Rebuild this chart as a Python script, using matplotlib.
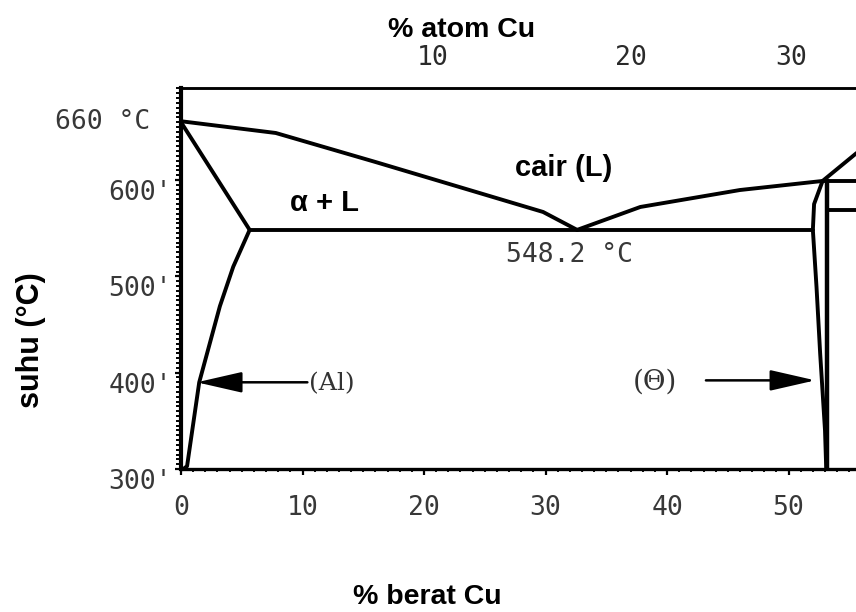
import matplotlib
matplotlib.use("Agg")
import matplotlib.pyplot as plt
import matplotlib.transforms as mtransforms
import numpy as np
from matplotlib.ticker import MultipleLocator

# --- data (wt% Cu, temperature in degC) ---
liquidus_left_wt = [0.0, 7.8, 16.0, 24.3, 29.8, 32.6]
liquidus_left_T = [661.0, 648.8, 618.7, 587.5, 566.8, 548.2]

liquidus_right_wt = [32.6, 37.8, 46.0, 52.8, 55.6]
liquidus_right_T = [548.2, 572.0, 589.6, 599.0, 628.0]

solidus_wt = [0.0, 5.65]
solidus_T = [660.0, 548.2]

solvus_wt = [5.65, 4.3, 3.2, 1.5, 0.5, 0.2]
solvus_T = [548.2, 510.0, 469.0, 390.0, 303.0, 300.0]

eutectic_wt = [5.65, 52.0]
eutectic_T = [548.2, 548.2]

theta_left_wt = [52.8, 52.1, 52.0, 52.3, 52.6, 53.0, 53.1]
theta_left_T = [599.0, 575.0, 548.2, 489.0, 420.0, 340.0, 300.0]

theta_right_wt = [53.2, 53.2]
theta_right_T = [599.0, 300.0]

upper_line_wt = [52.8, 56.0]
upper_line_T = [599.0, 599.0]
lower_line_wt = [53.2, 56.0]
lower_line_T = [569.0, 569.0]

T_melt_al = 660
T_eutectic = 548.2
T_arrow = 390

y_ticks = [300, 400, 500, 600]
y_tick_labels = ["300'", "400'", "500'", "600'"]
x_ticks = [0, 10, 20, 30, 40, 50]
top_ticks = [10, 20, 30]

M_CU = 63.55
M_AL = 26.98


def wt_to_at(w):
    w = np.asarray(w, dtype=float)
    n_cu = w / M_CU
    n_al = (100.0 - w) / M_AL
    return 100.0 * n_cu / (n_cu + n_al)


def at_to_wt(a):
    a = np.asarray(a, dtype=float)
    m_cu = a * M_CU
    m_al = (100.0 - a) * M_AL
    return 100.0 * m_cu / (m_cu + m_al)


fig = plt.figure(figsize=(8.56, 6.12), dpi=100)
ax = fig.add_axes([181 / 856, 1 - 469 / 612, 1 - 181 / 856, (469 - 88) / 612])
ax.set_xlim(0, 55.55)
ax.set_ylim(300, 695.5)

line_kw = dict(color="black", lw=2.8, solid_capstyle="round", solid_joinstyle="round")
ax.plot(liquidus_left_wt, liquidus_left_T, **line_kw)
ax.plot(liquidus_right_wt, liquidus_right_T, **line_kw)
ax.plot(solidus_wt, solidus_T, **line_kw)
ax.plot(solvus_wt, solvus_T, **line_kw)
ax.plot(eutectic_wt, eutectic_T, **line_kw)
ax.plot(theta_left_wt, theta_left_T, **line_kw)
ax.plot(theta_right_wt, theta_right_T, color="black", lw=3.2)
ax.plot(upper_line_wt, upper_line_T, **line_kw)
ax.plot(lower_line_wt, lower_line_T, **line_kw)

# spines and ticks
ax.spines["right"].set_visible(False)
ax.spines["top"].set_linewidth(1.8)
ax.spines["left"].set_linewidth(3.0)
ax.spines["bottom"].set_linewidth(2.4)

tick_font = dict(family="DejaVu Sans Mono", size=19, color="#383838")
ax.set_xticks(x_ticks)
ax.set_xticklabels([str(v) for v in x_ticks], fontdict=tick_font)
ax.xaxis.set_minor_locator(MultipleLocator(1))
ax.set_yticks(y_ticks)
ax.set_yticklabels(y_tick_labels, fontdict=tick_font)
ax.yaxis.set_minor_locator(MultipleLocator(5))
ax.tick_params(axis="x", which="major", direction="out", length=4.5, width=1.6, pad=14)
ax.tick_params(axis="x", which="minor", direction="out", length=2.5, width=1.3)
ax.tick_params(axis="y", which="major", direction="out", length=4.5, width=1.6, pad=2)
ax.tick_params(axis="y", which="minor", direction="out", length=3.5, width=1.4)

# y tick labels sit a little below their ticks in the reference
shift = mtransforms.ScaledTranslation(0, -10 / 100, fig.dpi_scale_trans)
for lbl in ax.get_yticklabels():
    lbl.set_transform(lbl.get_transform() + shift)

# top axis in atom %
top = ax.secondary_xaxis("top", functions=(wt_to_at, at_to_wt))
top.set_xticks(top_ticks)
top.set_xticklabels([str(v) for v in top_ticks],
                    fontdict=dict(family="DejaVu Sans Mono", size=19, color="#2a2a2a"))
top.tick_params(length=0, pad=12)
top.spines["top"].set_linewidth(1.8)

# melting point label
blend = mtransforms.blended_transform_factory(fig.transFigure, ax.transData)
ax.text(150 / 856, T_melt_al, "660 °C", transform=blend, ha="right", va="center",
        clip_on=False, **tick_font)

# region labels
bold = dict(family="Liberation Sans", weight="bold", color="black")
ax.text(31.5, 612, "cair (L)", ha="center", va="center", size=21, **bold)
ax.text(11.8, 576, "α + L", ha="center", va="center", size=21, **bold)
ax.text(32.0, 522, f"{T_eutectic} °C", ha="center", va="center", **tick_font)

# phase arrows
arrow_style = "-|>,head_length=1.4,head_width=0.32"
ax.annotate("", xy=(1.3, T_arrow), xytext=(10.4, T_arrow),
            arrowprops=dict(arrowstyle=arrow_style, color="black", lw=1.8,
                            mutation_scale=20, shrinkA=0, shrinkB=0))
ax.text(10.5, T_arrow - 1, "(Al)", ha="left", va="center", family="DejaVu Serif",
        size=18, color="#333333")
ax.annotate("", xy=(52.2, T_arrow + 2), xytext=(43.2, T_arrow + 2),
            arrowprops=dict(arrowstyle=arrow_style, color="black", lw=1.8,
                            mutation_scale=20, shrinkA=0, shrinkB=0))
ax.text(39.0, T_arrow, "(Θ)", ha="center", va="center", family="DejaVu Serif",
        size=20, color="#333333")

# axis titles
fig.text(462 / 856, 1 - 30 / 612, "% atom Cu", ha="center", va="center", size=20.5, **bold)
fig.text(427 / 856, 1 - 597 / 612, "% berat Cu", ha="center", va="center", size=20.5, **bold)
fig.text(31 / 856, 1 - 340 / 612, "suhu (°C)", ha="center", va="center", size=22,
         rotation=90, **bold)

fig.savefig("out.png", dpi=100)
